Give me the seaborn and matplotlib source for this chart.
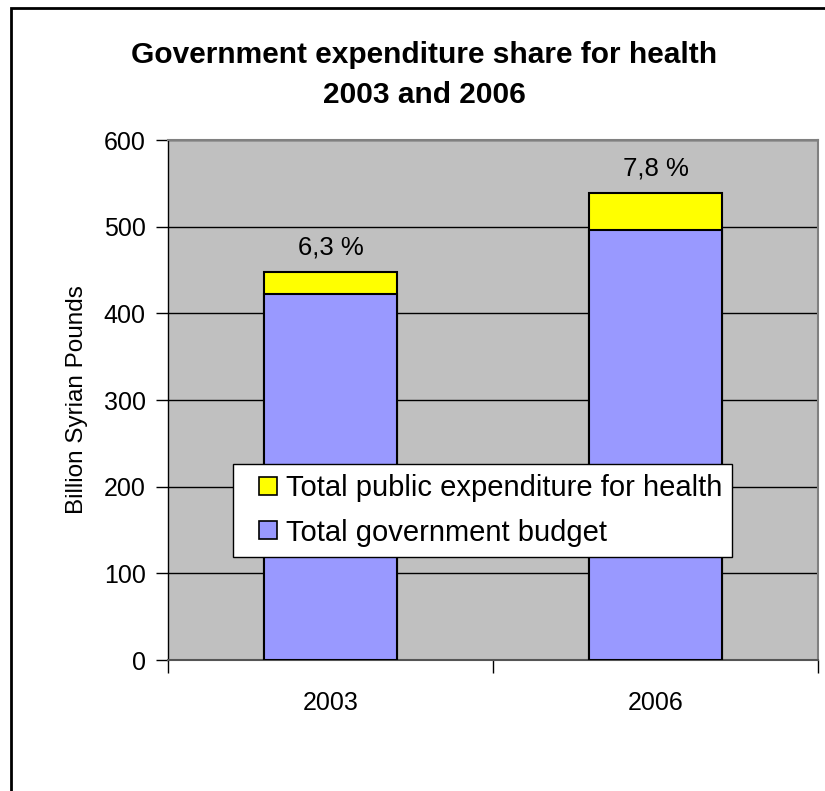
import matplotlib
matplotlib.use("Agg")
import matplotlib.pyplot as plt
import seaborn as sns
import pandas as pd
from matplotlib.patches import Rectangle, Patch
from matplotlib.legend_handler import HandlerPatch

# Data (billion Syrian pounds)
years = ["2003", "2006"]
budget = [422, 496]
health = [26, 43]
share_labels = ["6,3 %", "7,8 %"]
y_ticks = [0, 100, 200, 300, 400, 500, 600]

series_names = ["Total public expenditure for health", "Total government budget"]
health_color = "#FFFF00"
budget_color = "#9999FF"

sns.set_theme(style="white")
plt.rcParams["font.family"] = ["Liberation Sans", "DejaVu Sans"]
plt.rcParams["text.color"] = "black"
plt.rcParams["axes.labelcolor"] = "black"
plt.rcParams["xtick.color"] = "black"
plt.rcParams["ytick.color"] = "black"

df = pd.DataFrame({"year": years, "budget": budget, "health": health})
df["total"] = df["budget"] + df["health"]

W, H, DPI = 825, 791, 100
fig = plt.figure(figsize=(W / DPI, H / DPI), dpi=DPI, facecolor="white")
ax = fig.add_axes([168 / W, 1 - 660 / H, (818 - 168) / W, (660 - 140) / H])
ax.set_facecolor("#C0C0C0")

# Stacked bars: full total in yellow, budget drawn over it in blue
sns.barplot(data=df, x="year", y="total", color=health_color, saturation=1,
            width=0.41, edgecolor="black", linewidth=1.5, ax=ax, zorder=3)
sns.barplot(data=df, x="year", y="budget", color=budget_color, saturation=1,
            width=0.41, edgecolor="black", linewidth=1.5, ax=ax, zorder=4)

# Share labels above each bar
ax.bar_label(ax.containers[0], labels=share_labels, padding=9,
             fontsize=18.5, color="black", zorder=5)

ax.set_xlim(-0.5, 1.5)
ax.set_ylim(0, 600)
ax.set_yticks(y_ticks)
ax.set_yticklabels([str(v) for v in y_ticks], fontsize=18)
ax.set_xticks([0, 1])
ax.set_xticklabels(years, fontsize=18)
ax.tick_params(axis="x", length=0, pad=22)
ax.tick_params(axis="y", left=True, length=9, width=1, color="black", pad=7)

# category boundary ticks on the x axis
ax.set_xticks([-0.5, 0.5, 1.5], minor=True)
ax.tick_params(axis="x", which="minor", bottom=True, length=9, width=1, color="black")

ax.yaxis.grid(True, color="black", linewidth=1)
ax.set_axisbelow(True)
for sp in ["top", "right"]:
    ax.spines[sp].set_color("#808080")
    ax.spines[sp].set_linewidth(1.5)
ax.spines["left"].set_color("black")
ax.spines["left"].set_linewidth(1)
ax.spines["bottom"].set_color("#555555")
ax.spines["bottom"].set_linewidth(1.5)

ax.set_xlabel("")
ax.set_ylabel("Billion Syrian Pounds", fontsize=17.5, labelpad=11)

fig.text(424 / W, 1 - 55 / H, "Government expenditure share for health",
         ha="center", va="center", fontsize=21.5, fontweight="bold")
fig.text(424 / W, 1 - 95 / H, "2003 and 2006",
         ha="center", va="center", fontsize=21.5, fontweight="bold")


# Legend keys: small squares placed at the right end of the handle box
def square_key(legend, orig_handle, xdescent, ydescent, width, height, fontsize):
    s = 13
    return Rectangle((-xdescent + width - s, -ydescent + (height - s) / 2), s, s)


handles = [Patch(facecolor=health_color, edgecolor="black", linewidth=1.2),
           Patch(facecolor=budget_color, edgecolor="black", linewidth=1.2)]
leg = ax.legend(handles, series_names, loc="upper left",
                bbox_to_anchor=(233 / W, 1 - 464 / H), bbox_transform=fig.transFigure,
                fontsize=21, frameon=True, fancybox=False, shadow=False, framealpha=1,
                handlelength=1.16, handleheight=0.65, handletextpad=0.28,
                borderpad=0.36, borderaxespad=0, labelspacing=0.55,
                handler_map={Patch: HandlerPatch(patch_func=square_key)})
leg.get_frame().set_edgecolor("black")
leg.get_frame().set_linewidth(1)
leg.get_frame().set_facecolor("white")
leg.set_zorder(10)

# Chart-area border
fig.patches.append(Rectangle((11 / W, -0.05), 1.2, 1.05 - 8 / H,
                             transform=fig.transFigure, fill=False,
                             edgecolor="black", linewidth=2, clip_on=False))

fig.savefig("out.png", dpi=DPI, facecolor="white")
